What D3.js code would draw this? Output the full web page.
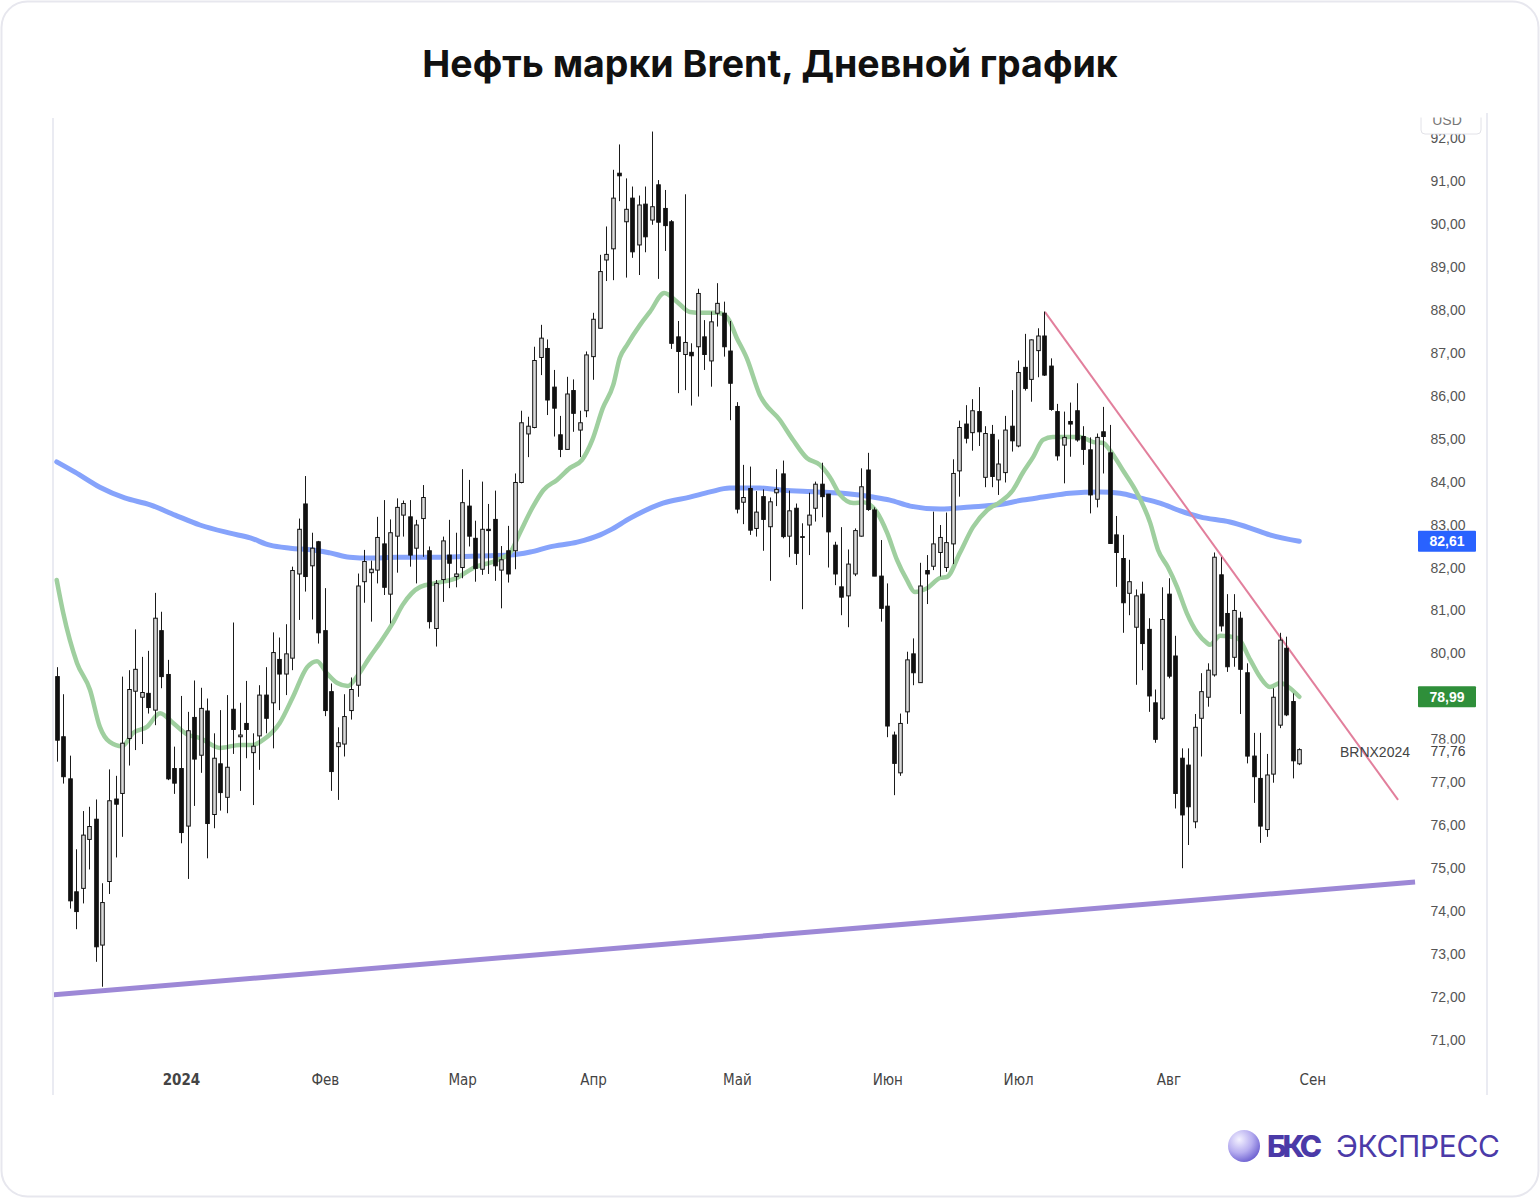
<!DOCTYPE html>
<html><head><meta charset="utf-8">
<script src="https://cdn.jsdelivr.net/npm/d3@7"></script>
<style>body{margin:0;background:#fff;} svg{display:block}</style>
</head><body>
<svg id="c" width="1540" height="1198"></svg>
<script>
// ---- DATA ----
const openP = [79.46,78.06,77.08,74.45,74.53,75.67,76.14,73.21,74.69,76.61,76.74,78.02,79.12,78.98,79.07,78.68,80.53,79.51,77.32,77.32,
75.98,78.51,77.63,78.66,76.25,77.43,76.65,78.70,78.06,78.37,77.69,78.08,79.03,78.85,79.86,79.52,79.89,81.85,83.48,82.04,
82.60,80.53,79.11,77.83,77.89,78.67,79.26,81.67,81.88,81.94,82.55,81.38,82.73,83.22,83.18,82.45,83.14,82.39,80.58,81.72,
82.29,81.79,82.00,83.43,82.68,81.96,82.89,83.12,81.94,82.39,82.39,83.98,85.11,85.26,86.89,87.10,86.20,85.09,84.75,86.12,
85.20,85.65,86.91,87.57,89.16,89.42,91.18,90.05,90.60,89.51,90.46,90.09,90.91,90.36,90.05,87.37,86.96,87.01,87.14,87.37,
86.81,87.92,87.92,87.04,85.75,83.52,83.84,82.91,83.65,82.95,83.74,84.18,82.73,83.38,82.70,82.99,83.38,83.94,83.71,82.52,
81.55,81.34,81.85,82.73,84.27,83.34,81.80,81.10,78.10,77.22,78.64,79.99,79.32,81.93,82.03,82.35,82.00,82.55,84.25,85.34,
85.14,85.63,84.10,85.10,84.04,84.21,85.29,84.83,86.66,86.38,87.05,87.39,86.69,85.63,84.85,85.40,85.65,85.05,84.74,83.59,
85.16,84.67,82.76,82.21,81.40,80.61,81.38,80.56,78.85,78.49,81.38,79.94,77.56,77.40,76.08,78.49,78.98,79.50,81.83,80.93,
79.91,80.82,79.55,77.61,77.09,75.90,77.19,78.33,80.12,78.88,77.43];
const highP = [79.68,79.05,77.62,75.44,76.33,76.43,76.60,74.65,77.30,77.15,79.46,79.61,80.56,79.92,80.06,81.41,80.97,79.85,77.83,79.01,
78.64,79.37,79.20,78.95,78.14,78.68,79.03,80.72,78.85,79.36,78.14,79.26,79.68,80.49,80.37,80.68,82.02,83.14,84.13,82.81,
82.62,81.52,79.30,78.28,79.05,79.44,81.86,82.41,82.16,83.18,83.57,83.12,83.61,83.56,83.57,83.11,83.92,82.49,81.71,82.72,
83.11,82.81,84.29,84.04,83.09,84.00,83.48,83.79,82.50,82.97,84.19,85.65,85.51,87.14,87.65,87.31,86.60,85.53,86.44,86.38,
85.65,87.03,87.93,89.28,89.94,91.26,91.85,91.06,90.87,90.66,90.87,92.15,91.02,90.79,90.09,87.74,90.69,87.22,88.49,87.76,
87.96,88.62,88.19,87.74,85.85,84.39,84.35,83.78,83.82,83.63,84.29,84.49,83.79,83.49,83.03,83.74,84.00,84.44,83.71,82.60,
82.94,82.42,82.91,84.31,84.67,83.40,82.64,81.63,78.18,78.60,80.04,80.35,82.11,82.29,83.30,82.99,83.28,84.52,85.42,85.78,
85.92,86.20,85.29,85.32,84.98,85.53,86.13,86.82,87.44,87.31,87.57,87.96,86.87,85.81,85.63,85.84,86.29,85.29,85.03,85.12,
85.74,85.32,83.20,82.76,82.18,81.49,81.67,80.82,79.16,81.54,81.75,80.41,77.79,77.79,78.59,79.54,79.77,82.35,82.24,81.38,
81.38,80.97,79.77,78.15,78.15,77.66,79.19,80.48,80.39,79.07,77.79];
const lowP = [77.48,76.97,74.06,73.58,74.18,74.97,72.82,72.24,74.40,75.25,75.73,77.39,77.75,77.89,78.60,78.33,79.19,77.05,76.73,75.58,
74.75,76.45,77.22,75.23,75.93,76.34,76.28,77.66,76.80,77.56,76.47,77.29,78.14,77.79,78.68,79.03,79.61,80.78,81.44,80.79,
80.23,78.54,76.80,76.59,77.60,78.46,78.99,81.18,80.74,81.63,81.36,80.70,81.88,82.72,82.02,81.63,82.25,80.58,80.16,81.20,
81.52,81.54,81.75,82.49,81.67,81.83,81.85,81.69,81.05,81.65,81.96,83.96,84.57,85.24,86.48,85.55,85.05,84.57,84.75,85.16,
84.57,85.50,86.37,87.57,88.67,88.69,90.53,88.75,89.21,88.81,89.34,89.98,88.72,89.37,87.09,86.06,86.13,85.77,85.98,86.60,
86.21,87.61,86.91,85.43,83.26,83.01,82.76,82.72,82.39,81.69,83.43,82.68,82.24,82.06,81.03,82.29,83.07,83.17,82.00,81.59,
80.89,80.61,81.80,82.72,83.32,81.80,80.74,78.05,76.70,77.15,78.36,79.26,79.32,81.15,81.94,81.79,81.90,82.08,83.65,84.89,
84.72,84.83,83.87,83.87,83.69,83.98,84.70,84.80,86.12,85.86,86.43,86.46,85.65,84.49,83.96,84.58,84.93,84.39,83.26,83.40,
84.19,82.55,81.55,80.48,80.89,79.27,79.61,78.64,77.92,78.45,79.42,76.39,75.00,75.54,75.93,77.60,78.76,79.46,80.51,79.57,
79.69,78.59,77.44,76.52,75.59,75.73,76.99,78.26,78.54,77.09,77.40];
const closeP = [77.98,77.13,74.24,73.99,75.77,75.97,73.17,74.20,76.57,76.49,77.91,79.16,79.63,79.09,78.74,80.82,79.46,77.08,76.98,75.83,
78.20,77.54,78.72,76.04,77.56,76.76,77.35,78.23,78.10,78.23,77.84,79.03,78.49,80.02,79.52,79.99,81.93,82.89,81.79,82.45,
80.48,78.67,77.25,77.92,78.53,79.16,81.57,82.14,81.96,82.70,81.54,82.81,83.40,83.49,82.29,82.99,83.63,80.74,81.63,82.62,
82.10,81.85,83.51,82.73,81.98,82.89,82.86,82.04,82.18,81.85,83.98,85.37,85.29,86.82,87.34,85.90,85.71,84.75,86.04,85.59,
85.37,86.95,87.78,88.89,89.29,90.60,91.12,90.34,89.35,90.44,89.70,90.40,90.04,89.96,87.22,87.03,87.24,86.93,88.38,86.96,
87.72,88.15,87.14,86.29,83.36,83.63,82.87,83.29,83.12,83.53,83.82,82.72,83.32,82.33,82.72,83.22,83.94,83.65,82.83,81.85,
81.31,82.08,82.86,83.88,83.35,81.80,81.05,78.31,77.44,78.37,79.85,79.55,81.57,81.85,82.55,82.70,82.58,84.19,85.26,85.01,
85.65,85.16,85.12,84.12,84.41,85.20,84.95,86.54,86.17,87.30,87.39,86.48,85.68,84.60,85.03,85.34,84.97,84.75,83.69,85.03,
85.05,82.56,82.35,81.18,81.67,81.34,80.23,79.01,78.00,80.79,79.47,76.74,76.24,76.43,78.28,79.11,79.61,82.24,80.64,79.69,
81.00,79.63,77.61,77.13,75.98,77.17,78.98,80.31,78.57,77.50,77.76];

const greenIdx = [0,1,3.1,5.1,6.6,8.1,10,11.7,13.8,15.8,17.8,19.9,21.9,25,28,30,31.5,34.1,36.1,38.3,39.8,41.3,42.9,44.5,46.1,47.9,49.4,51.4,52.9,55.6,58.1,61.2,63.7,67.3,69.3,70.8,72.8,74.4,76.5,78.5,80.3,81.9,83.5,85.1,86.1,87.2,89.2,90.7,92.9,94.9,96.8,98.8,101,102.5,104,105.5,107.5,110.6,112.6,114.7,116.7,118.2,119.8,121.8,123.3,125.4,127,128.5,130,131.2,133.1,135.1,136.1,138.1,140.1,142.3,144.2,146.2,147.7,149.3,150.8,152.3,154.5,156.5,158.5,160,161,163,165.2,167.2,168.4,169.9,171.3,172.8,174.4,175.9,176.3,177.9,180.5,182.5,184,185.5,187.1,188.6,190];
const greenVal = [81.71,80.94,79.78,79.15,78.29,77.94,77.84,78.15,78.29,78.61,78.38,78.12,78.03,77.80,77.87,77.87,77.98,78.38,78.98,79.68,79.82,79.54,79.31,79.24,79.50,79.92,80.24,80.71,81.13,81.55,81.64,81.76,81.99,82.17,82.34,82.80,83.41,83.80,84.04,84.32,84.50,84.97,85.71,86.25,86.88,87.18,87.65,87.95,88.39,88.18,87.95,87.93,87.93,87.83,87.34,86.88,86.02,85.43,84.97,84.55,84.39,84.11,83.69,83.50,83.52,83.29,82.80,82.17,81.71,81.43,81.52,81.76,81.78,82.34,82.94,83.34,83.52,83.80,84.20,84.57,84.97,85.04,85.04,85.04,84.92,84.90,84.74,84.27,83.73,83.04,82.41,82.01,81.55,80.94,80.48,80.24,80.20,80.41,80.36,79.85,79.45,79.22,79.31,79.19,78.99];
const blueIdx = [0,2.8,6.6,10.4,14.3,18.1,21.9,26.5,29.6,32.6,35.7,39.2,41.8,44.8,47.9,52,59.1,64.3,69.3,72.4,75.4,79.6,83.1,84.6,87.7,92.7,96.8,99.9,102.9,107.5,111,116.3,121.3,124.8,127.4,130.5,135.1,139.7,143.8,147.7,150.8,154.9,159.5,162.6,165.6,168.7,171.8,174.8,179.4,182.5,185.5,190];
const blueVal = [84.46,84.22,83.87,83.62,83.46,83.22,82.99,82.80,82.69,82.52,82.45,82.41,82.34,82.24,82.22,82.24,82.24,82.27,82.29,82.36,82.48,82.59,82.76,82.87,83.15,83.50,83.64,83.76,83.85,83.85,83.80,83.76,83.71,83.64,83.57,83.43,83.36,83.41,83.46,83.57,83.64,83.73,83.76,83.73,83.62,83.50,83.32,83.18,83.06,82.92,82.76,82.61];
const supportLine = [[-0.55,72.05],[207.7,74.68]];
const resistLine = [[151.1,87.95],[205.1,76.59]];
const monthLabels = ["2024","Фев","Мар","Апр","Май","Июн","Июл","Авг","Сен"];
const monthIdx = [19,41,62,82,104,127,147,170,192];
const priceTicks = d3.range(71,93,1);
const lastPrice = 77.76, greenLast = 78.99, blueLast = 82.61;
const ticker = "BRNX2024";
const title = "Нефть марки Brent, Дневной график";

// ---- CHART ----
const svg = d3.select("#c");
const x = d3.scaleLinear().domain([0,190]).range([56.7,1299.3]);
const y = d3.scaleLinear().domain([71,92]).range([1040,138]);
const fmt = v => v.toFixed(2).replace(".", ",");

svg.append("rect").attr("x",1.5).attr("y",1.5).attr("width",1537).attr("height",1195)
  .attr("rx",26).attr("fill","#fff").attr("stroke","#e7e7ee").attr("stroke-width",2);

svg.append("text").attr("x",770).attr("y",77).attr("text-anchor","middle")
  .attr("font-family","Inter, 'Noto Sans', sans-serif").attr("font-weight",700)
  .attr("font-size",37.5).attr("fill","#111").text(title);

// panel borders
svg.append("line").attr("x1",53).attr("x2",53).attr("y1",118).attr("y2",1095).attr("stroke","#e3e5ee").attr("stroke-width",1.5);
svg.append("line").attr("x1",1487).attr("x2",1487).attr("y1",113).attr("y2",1095).attr("stroke","#e3e5ee").attr("stroke-width",1.5);

const defs = svg.append("defs");
defs.append("clipPath").attr("id","plot").append("rect").attr("x",54).attr("y",113).attr("width",1362).attr("height",982);
defs.append("clipPath").attr("id","axisclip").append("rect").attr("x",1416).attr("y",113).attr("width",70).attr("height",982);
defs.append("clipPath").attr("id","boxclip").append("rect").attr("x",1416).attr("y",117.5).attr("width",70).attr("height",30);
const grad = defs.append("radialGradient").attr("id","orb").attr("cx","35%").attr("cy","30%").attr("r","75%");
grad.append("stop").attr("offset","0%").attr("stop-color","#f4f2ff");
grad.append("stop").attr("offset","55%").attr("stop-color","#b7aef0");
grad.append("stop").attr("offset","100%").attr("stop-color","#6b5fd0");

const plot = svg.append("g").attr("clip-path","url(#plot)");
const line = d3.line().x(d=>x(d[0])).y(d=>y(d[1])).curve(d3.curveMonotoneX);

plot.append("path").datum(blueIdx.map((d,i)=>[d,blueVal[i]])).attr("d",line)
  .attr("fill","none").attr("stroke","#86a3fb").attr("stroke-width",5).attr("stroke-linecap","round");
plot.append("path").datum(greenIdx.map((d,i)=>[d,greenVal[i]])).attr("d",line)
  .attr("fill","none").attr("stroke","#9fcf9f").attr("stroke-width",4.5).attr("stroke-linecap","round");
plot.append("path").datum(supportLine).attr("d",d3.line().x(d=>x(d[0])).y(d=>y(d[1])))
  .attr("fill","none").attr("stroke","#9d88d6").attr("stroke-width",5);
plot.append("path").datum(resistLine).attr("d",d3.line().x(d=>x(d[0])).y(d=>y(d[1])))
  .attr("fill","none").attr("stroke","#e27f9c").attr("stroke-width",2);

const candles = openP.map((o,i)=>({i,o,h:highP[i],l:lowP[i],c:closeP[i]}));
const cg = plot.append("g");
cg.selectAll("line").data(candles).join("line")
  .attr("x1",d=>Math.round(x(d.i))+0.5).attr("x2",d=>Math.round(x(d.i))+0.5)
  .attr("y1",d=>y(d.h)).attr("y2",d=>y(d.l)).attr("stroke","#1a1a1a").attr("stroke-width",1);
cg.selectAll("rect").data(candles).join("rect")
  .attr("x",d=>Math.round(x(d.i))+0.5-1.8).attr("width",3.6)
  .attr("y",d=>y(Math.max(d.o,d.c))).attr("height",d=>Math.max(0.8,Math.abs(y(d.o)-y(d.c))))
  .attr("fill",d=>d.c>=d.o?"#d9d9d9":"#111").attr("stroke","#111").attr("stroke-width",1);

// ticker label near last price
svg.append("text").attr("x",1410).attr("y",y(lastPrice)+2).attr("dy","0.35em").attr("text-anchor","end")
  .attr("font-family","'Liberation Sans', Arial, sans-serif").attr("font-size",14).attr("fill","#444").text(ticker);

// right axis
const ax = svg.append("g").attr("clip-path","url(#axisclip)");
const yAxis = ax.append("g").attr("transform","translate(1448,0)")
  .call(d3.axisRight(y).tickValues(priceTicks).tickFormat(fmt).tickSize(0).tickPadding(0));
yAxis.select(".domain").remove();
yAxis.selectAll("text").attr("text-anchor","middle").attr("font-family","'Liberation Sans', Arial, sans-serif")
  .attr("font-size",14).attr("fill","#555");

// currency box at top (partly hidden)
const bx = svg.append("g").attr("clip-path","url(#boxclip)");
bx.append("rect").attr("x",1421).attr("y",104).attr("width",60).attr("height",30).attr("rx",4)
  .attr("fill","#fff").attr("stroke","#e2e2e8");
bx.append("text").attr("x",1447).attr("y",125).attr("text-anchor","middle")
  .attr("font-family","'Liberation Sans', Arial, sans-serif").attr("font-size",14).attr("fill","#777").text("USD");

// last price (covers 78,00 partially)
ax.append("rect").attr("x",1422).attr("y",y(lastPrice)-6).attr("width",54).attr("height",15).attr("fill","#fff");
ax.append("text").attr("x",1448).attr("y",y(lastPrice)+1).attr("dy","0.35em").attr("text-anchor","middle")
  .attr("font-family","'Liberation Sans', Arial, sans-serif").attr("font-size",14).attr("fill","#444").text(fmt(lastPrice));

function badge(v,color){
  ax.append("rect").attr("x",1418).attr("y",y(v)-10.5).attr("width",58).attr("height",21).attr("rx",1).attr("fill",color);
  ax.append("text").attr("x",1447).attr("y",y(v)).attr("dy","0.36em").attr("text-anchor","middle")
    .attr("font-family","'Liberation Sans', Arial, sans-serif").attr("font-weight",700).attr("font-size",14)
    .attr("fill","#fff").text(fmt(v));
}
badge(blueLast,"#2962ff");
badge(greenLast,"#2f8f3a");

// bottom axis
const xAxis = svg.append("g").attr("transform","translate(0,1074)")
  .call(d3.axisBottom(x).tickValues(monthIdx).tickFormat((d,i)=>monthLabels[i]).tickSize(0).tickPadding(0));
xAxis.select(".domain").remove();
xAxis.selectAll("text").attr("font-family","'Liberation Sans Narrow','DejaVu Sans Condensed',sans-serif")
  .attr("font-size",15).attr("fill","#444").attr("font-weight",(d,i)=>i===0?700:400);

// logo
const logo = svg.append("g");
logo.append("circle").attr("cx",1244).attr("cy",1146).attr("r",16).attr("fill","url(#orb)");
logo.append("text").attr("x",1267).attr("y",1157).attr("font-family","Inter, 'Noto Sans', sans-serif")
  .attr("font-weight",800).attr("font-size",30).attr("fill","#4b3aa8").attr("textLength",55).text("БКС");
logo.append("text").attr("x",1336).attr("y",1157).attr("font-family","Inter, 'Noto Sans', sans-serif")
  .attr("font-weight",400).attr("font-size",30).attr("fill","#4b3aa8").attr("textLength",164).text("ЭКСПРЕСС");
</script>
</body></html>
